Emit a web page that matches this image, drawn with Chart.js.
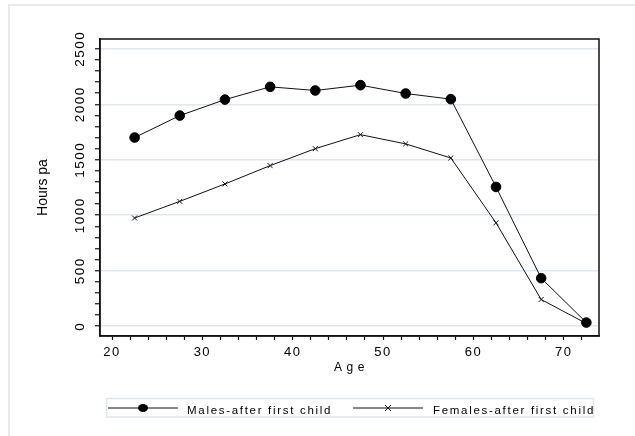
<!DOCTYPE html>
<html lang="en">
<head>
<meta charset="UTF-8">
<title>Hours pa by age</title>
<script src="https://cdn.jsdelivr.net/npm/chart.js"></script>
<style>
    body { margin: 0; background: #fff; }
    canvas { display: block; }
</style>
</head>
<body>
<canvas id="grafico" width="635" height="436"></canvas>
<script>
    // dados
    var idades = [22.5, 27.5, 32.5, 37.5, 42.5, 47.5, 52.5, 57.5, 62.5, 67.5, 72.5];
    var homens = [1700, 1898, 2042, 2157, 2124, 2172, 2097, 2046, 1255, 433, 33];
    var mulheres = [975, 1125, 1282, 1447, 1600, 1726, 1643, 1516, 932, 241, 25];
    var rotulosY = [0, 500, 1000, 1500, 2000, 2500];
    var rotulosX = [20, 30, 40, 50, 60, 70];
    var passoMenorY = 100;
    var passoMenorX = 2;
    var nomes = ['Males-after first child', 'Females-after first child'];

    var fonte = '"Liberation Sans", Arial, sans-serif';
    var corGrade = '#dfe6f1';

    function pontos(xs, ys) {
        var out = [];
        for (var i = 0; i < xs.length; i++) out.push({ x: xs[i], y: ys[i] });
        return out;
    }

    function ticksMenores(ini, fim, passo) {
        var t = [];
        for (var v = ini; v <= fim + 1e-9; v += passo) t.push({ value: v });
        return t;
    }

    var moldura = {
        id: 'moldura',
        beforeDraw(chart) {
            var ctx = chart.ctx;
            ctx.save();
            ctx.fillStyle = '#fff';
            ctx.fillRect(0, 0, chart.width, chart.height);
            ctx.strokeStyle = '#e6ebf2';
            ctx.lineWidth = 2;
            ctx.strokeRect(9, 5, chart.width + 20, chart.height + 20);
            ctx.restore();
            ctx.letterSpacing = '1.5px';
        },
        afterDraw(chart) {
            var ctx = chart.ctx;
            var a = chart.chartArea;
            ctx.save();
            // caixa do grafico
            ctx.strokeStyle = '#111';
            ctx.lineWidth = 1.5;
            ctx.strokeRect(a.left, a.top, a.right - a.left, a.bottom - a.top);

            ctx.fillStyle = '#000';
            // titulo y
            ctx.letterSpacing = '0px';
            ctx.font = '14px ' + fonte;
            ctx.textAlign = 'center';
            ctx.textBaseline = 'middle';
            ctx.translate(43.5, (a.top + a.bottom) / 2);
            ctx.rotate(-Math.PI / 2);
            ctx.fillText('Hours pa', 0, 0);
            ctx.setTransform(1, 0, 0, 1, 0, 0);

            // titulo x
            ctx.letterSpacing = '4.5px';
            ctx.font = '12px ' + fonte;
            ctx.textBaseline = 'alphabetic';
            ctx.fillText('Age', (a.left + a.right) / 2 + 2, 371);

            // legenda
            ctx.letterSpacing = '0px';
            ctx.strokeStyle = corGrade;
            ctx.lineWidth = 1.5;
            ctx.strokeRect(106.5, 398.5, 487, 18.5);

            var itens = [
                { x0: 108, x1: 178, texto: 187 },
                { x0: 353, x1: 423, texto: 433 }
            ];
            var ly = 408;
            itens.forEach(function (it, i) {
                var ds = chart.data.datasets[i];
                ctx.strokeStyle = '#111';
                ctx.lineWidth = 1;
                ctx.beginPath();
                ctx.moveTo(it.x0, ly);
                ctx.lineTo(it.x1, ly);
                ctx.stroke();
                var mx = (it.x0 + it.x1) / 2;
                if (ds.pointStyle === 'circle') {
                    ctx.fillStyle = '#000';
                    ctx.beginPath();
                    ctx.ellipse(mx, ly, 5, 4, 0, 0, Math.PI * 2);
                    ctx.fill();
                } else {
                    var r = 3;
                    ctx.beginPath();
                    ctx.moveTo(mx - r, ly - r); ctx.lineTo(mx + r, ly + r);
                    ctx.moveTo(mx - r, ly + r); ctx.lineTo(mx + r, ly - r);
                    ctx.stroke();
                }
                ctx.fillStyle = '#000';
                ctx.letterSpacing = '1.7px';
                ctx.font = '11.5px ' + fonte;
                ctx.textAlign = 'left';
                ctx.textBaseline = 'alphabetic';
                ctx.fillText(ds.label, it.texto, 414);
            });
            ctx.restore();
        }
    };

    var config = {
        type: 'line',
        data: {
            datasets: [{
                label: nomes[0],
                data: pontos(idades, homens),
                borderColor: '#111',
                borderWidth: 1,
                pointStyle: 'circle',
                pointRadius: 4.8,
                pointBackgroundColor: '#000',
                pointBorderColor: '#000',
                pointBorderWidth: 1
            }, {
                label: nomes[1],
                data: pontos(idades, mulheres),
                borderColor: '#111',
                borderWidth: 1,
                pointStyle: 'crossRot',
                pointRadius: 3.5,
                pointBorderColor: '#111',
                pointBorderWidth: 1
            }]
        },
        options: {
            responsive: false,
            animation: false,
            events: [],
            layout: { autoPadding: false, padding: { top: 39, right: 36, left: 0, bottom: 0 } },
            plugins: { legend: { display: false }, tooltip: { enabled: false } },
            scales: {
                x: {
                    type: 'linear',
                    min: 18.67,
                    max: 73.9,
                    afterBuildTicks: function (s) { s.ticks = ticksMenores(20, 72, passoMenorX); },
                    afterFit: function (s) { s.height = 100; },
                    grid: { drawOnChartArea: false, tickLength: 4, tickColor: '#111', tickWidth: 1.2 },
                    border: { color: '#111', width: 1.5 },
                    ticks: {
                        autoSkip: false,
                        maxRotation: 0,
                        padding: 5,
                        color: '#000',
                        font: { family: fonte, size: 13 },
                        callback: function (v) { return rotulosX.indexOf(v) >= 0 ? String(v) : ''; }
                    }
                },
                y: {
                    min: -88,
                    max: 2588,
                    afterBuildTicks: function (s) { s.ticks = ticksMenores(0, 2500, passoMenorY); },
                    afterFit: function (s) { s.width = 100; },
                    grid: {
                        tickLength: 5,
                        tickColor: '#111',
                        tickWidth: 1.2,
                        lineWidth: 1.5,
                        color: function (c) { return c.tick && rotulosY.indexOf(c.tick.value) >= 0 ? corGrade : 'rgba(0,0,0,0)'; }
                    },
                    border: { color: '#111', width: 1.5 },
                    ticks: {
                        autoSkip: false,
                        minRotation: 90,
                        maxRotation: 90,
                        crossAlign: 'center',
                        padding: -0.5,
                        color: '#000',
                        font: { family: fonte, size: 13.5 },
                        callback: function (v) { return rotulosY.indexOf(v) >= 0 ? String(v) : ''; }
                    }
                }
            }
        },
        plugins: [moldura]
    };

    var grafico = new Chart(document.getElementById('grafico'), config);
</script>
</body>
</html>
